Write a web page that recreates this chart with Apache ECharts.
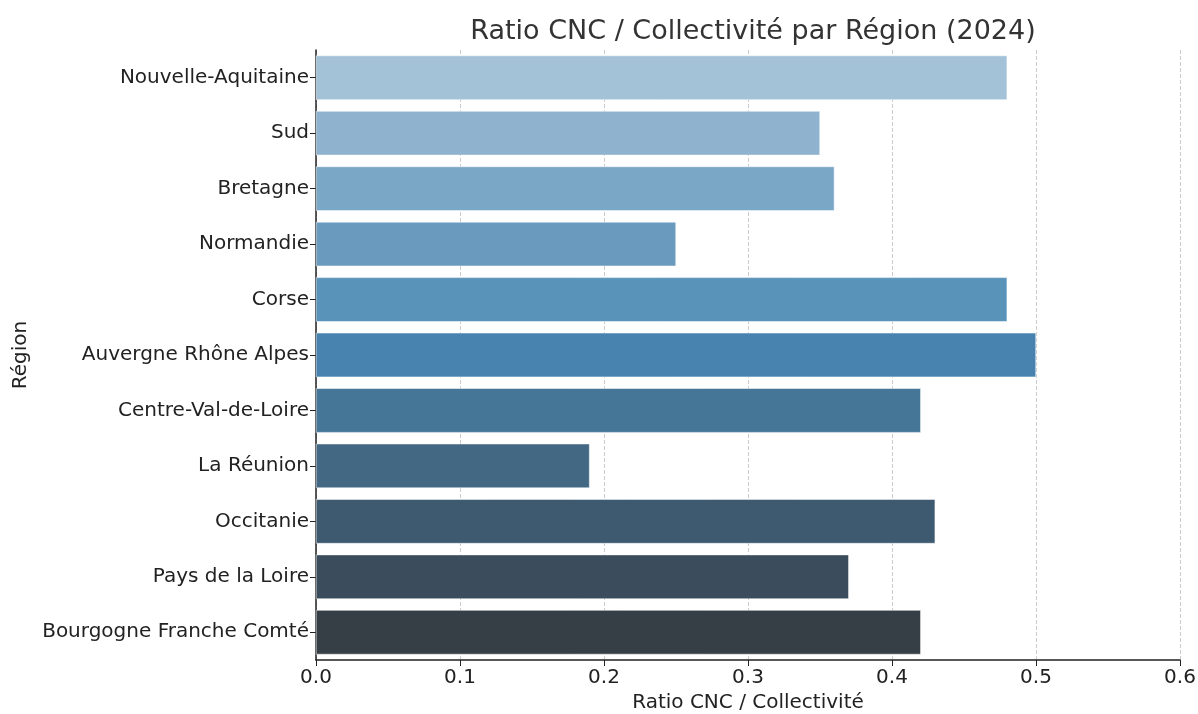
<!DOCTYPE html>
<html>
<head>
<meta charset="utf-8">
<script src="https://cdn.jsdelivr.net/npm/echarts@6/dist/echarts.min.js"></script>
<style>
  html, body { margin: 0; padding: 0; background: #fff; }
  #main { width: 1198px; height: 714px; }
</style>
</head>
<body>
<div id="main"></div>
<script>
var regions = ['Nouvelle-Aquitaine', 'Sud', 'Bretagne', 'Normandie', 'Corse',
  'Auvergne Rhône Alpes', 'Centre-Val-de-Loire', 'La Réunion', 'Occitanie',
  'Pays de la Loire', 'Bourgogne Franche Comté'];
var ratios = [0.48, 0.35, 0.36, 0.25, 0.48, 0.50, 0.42, 0.19, 0.43, 0.37, 0.42];
var barColors = ['#a3c2d8', '#8fb3cf', '#7ba7c7', '#6a9bbf', '#5a93ba', '#4883b0',
  '#457597', '#436883', '#3d5a70', '#3b4d5c', '#363f46'];

var myChart = echarts.init(document.getElementById('main'));
var font = 'DejaVu Sans';

var option = {
  animation: false,
  title: {
    text: 'Ratio CNC / Collectivité par Région (2024)',
    left: 748,
    top: 13,
    textAlign: 'center',
    textStyle: { fontFamily: font, fontSize: 27, fontWeight: 'normal', color: '#333' }
  },
  grid: { left: 316, right: 18, top: 50, bottom: 54, outerBoundsMode: 'none', containLabel: false },
  xAxis: {
    type: 'value',
    min: 0,
    max: 0.6,
    interval: 0.1,
    name: 'Ratio CNC / Collectivité',
    nameLocation: 'middle',
    nameGap: 33,
    nameTextStyle: { fontFamily: font, fontSize: 20, color: '#222' },
    axisLine: { show: true, lineStyle: { color: '#222', width: 1.5 } },
    axisTick: { show: true, length: 6, lineStyle: { color: '#222' } },
    axisLabel: {
      fontFamily: font, fontSize: 20, color: '#222', margin: 8,
      formatter: function(v) { return v.toFixed(1); }
    },
    splitLine: { show: true, lineStyle: { color: '#cccccc', type: 'dashed', width: 1 } }
  },
  yAxis: {
    type: 'category',
    data: regions,
    inverse: true,
    name: 'Région',
    nameLocation: 'middle',
    nameGap: 285,
    nameTextStyle: { fontFamily: font, fontSize: 20, color: '#222' },
    axisLine: { show: true, lineStyle: { color: '#222', width: 1.5 } },
    axisTick: { show: true, alignWithLabel: true, length: 6, lineStyle: { color: '#222' } },
    axisLabel: { fontFamily: font, fontSize: 20, color: '#222', margin: 7 },
    splitLine: { show: false }
  },
  series: [
    {
      type: 'bar',
      barCategoryGap: '20%',
      data: ratios.map(function(v, i) {
        return { value: v, itemStyle: { color: barColors[i] } };
      }),
      itemStyle: { borderColor: '#ffffff', borderWidth: 0.5 }
    }
  ]
};

myChart.setOption(option);
</script>
</body>
</html>
